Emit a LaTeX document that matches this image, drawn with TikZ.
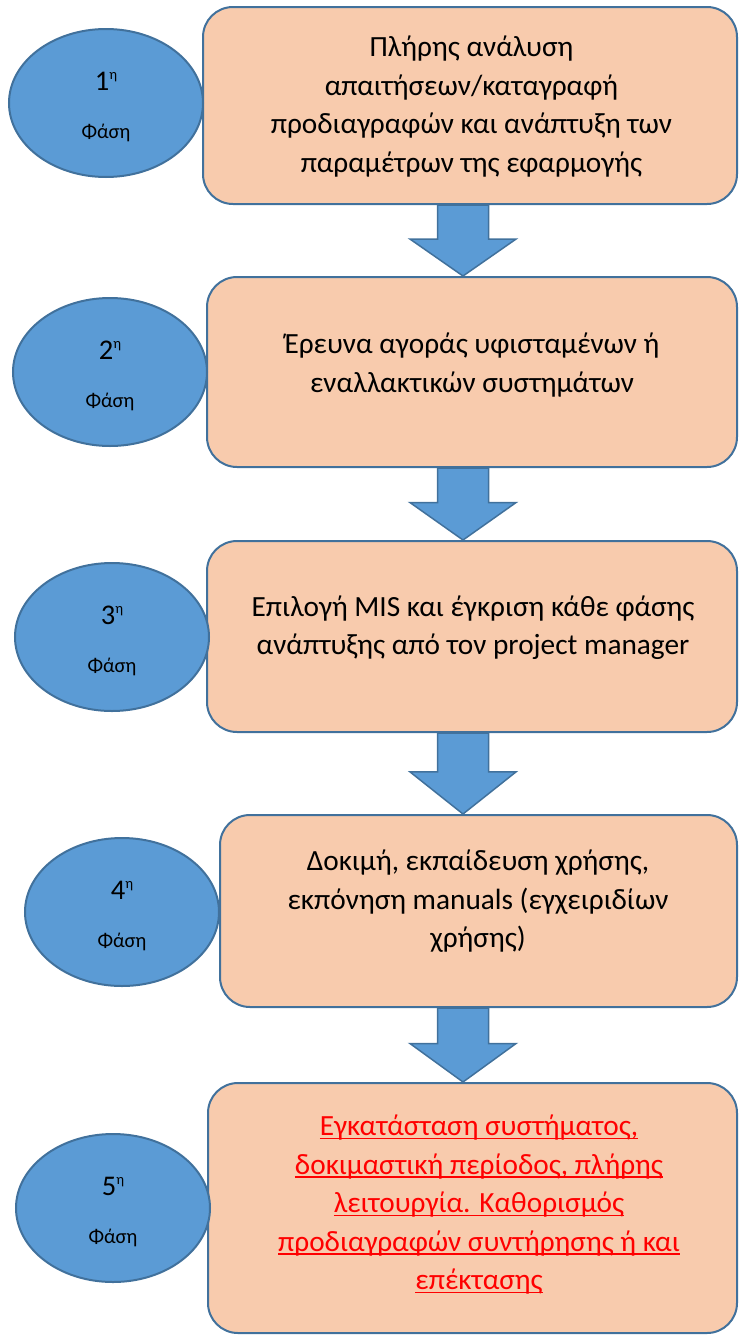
\documentclass[tikz,border=0pt]{standalone}
\usepackage{fontspec}
\setmainfont{Carlito}
\usetikzlibrary{calc,shapes.geometric}

\definecolor{peach}{HTML}{F8CBAD}
\definecolor{outline}{HTML}{41719C}
\definecolor{steel}{HTML}{5B9BD5}
\definecolor{alertred}{HTML}{FF0000}

% underlined line of text: the text, then a rule of the same width below it
\newsavebox{\ulinebox}
\newcommand{\ulined}[1]{\sbox{\ulinebox}{#1}\rlap{\usebox{\ulinebox}}\rule[-3.4pt]{\wd\ulinebox}{1.6pt}}

\tikzset{
  stagebox/.style={rectangle, draw=outline, fill=peach, line width=2pt,
    rounded corners=30pt, inner sep=0pt},
  phase/.style={ellipse, draw=outline, fill=steel, line width=2pt,
    minimum width=194pt, minimum height=148pt, inner sep=0pt},
  phasetext/.style={align=center, inner sep=0pt, font=\fontsize{20.5}{48}\selectfont},
  boxtext/.style={align=center, inner sep=0pt,
    font=\fontsize{29.3}{38.5}\selectfont},
  flowarrow/.style={draw=outline, fill=steel, line width=1.5pt, line join=miter},
}

% ordinal "n-th" phase label inside the ellipses
\newcommand{\phasetag}[1]{{\fontsize{28.5}{48}\selectfont #1\raisebox{11.5pt}{\fontsize{14.5}{14.5}\selectfont η}}\\Φάση}

% block arrow from the bottom of one stage to the top of the next
\newcommand{\flowstep}[2]{%
  \coordinate (s) at (#1.south -| ax);
  \coordinate (e) at (#2.north -| ax);
  \coordinate (m) at ($(s)!0.48!(e)$);
  \draw[flowarrow] ($(s)+(-25.5,0)$) -- ($(s)+(25.5,0)$) -- ($(m)+(25.5,0)$)
    -- ($(m)+(53,0)$) -- (e) -- ($(m)+(-53,0)$) -- ($(m)+(-25.5,0)$) -- cycle;
}

\begin{document}
\begin{tikzpicture}[x=1pt,y=-1pt]
\useasboundingbox (0,0) rectangle (739,1336);
\coordinate (ax) at (463,0);

% stages
\node[stagebox, minimum width=534pt, minimum height=197pt] (b1) at (470,105.5) {};
\node[stagebox, minimum width=530pt, minimum height=190pt] (b2) at (472,372) {};
\node[stagebox, minimum width=530pt, minimum height=191pt] (b3) at (472,636.5) {};
\node[stagebox, minimum width=517pt, minimum height=192pt] (b4) at (478.5,911) {};
\node[stagebox, minimum width=529pt, minimum height=250pt] (b5) at (472.5,1208) {};

% stage descriptions
\node[boxtext] (t1) at (471.5,106.5) {Πλήρης ανάλυση\\απαιτήσεων/καταγραφή\\προδιαγραφών και ανάπτυξη των\\παραμέτρων της εφαρμογής};
\node[boxtext] (t2) at (472,365) {Έρευνα αγοράς υφισταμένων ή\\εναλλακτικών συστημάτων};
\node[boxtext] (t3) at (473,627.5) {Επιλογή MIS και έγκριση κάθε φάσης\\ανάπτυξης από τον project manager};
\node[boxtext] (t4) at (478,901.5) {Δοκιμή, εκπαίδευση χρήσης,\\εκπόνηση manuals (εγχειριδίων\\χρήσης)};
\node[boxtext, text=alertred] (t5) at (479,1205) {\ulined{Εγκατάσταση συστήματος,}\\\ulined{δοκιμαστική περίοδος, πλήρης}\\\ulined{λειτουργία. Καθορισμός}\\\ulined{προδιαγραφών συντήρησης ή και}\\\ulined{επέκτασης}};

% phase markers
\node[phase] (p1) at (106,103) {};
\node[phase] (p2) at (110,372) {};
\node[phase] (p3) at (112,637) {};
\node[phase] (p4) at (122,912) {};
\node[phase] (p5) at (113,1208) {};
\node[phasetext] (l1) at ($(p1.center)+(0,4)$) {\phasetag{1}};
\node[phasetext] (l2) at ($(p2.center)+(0,4)$) {\phasetag{2}};
\node[phasetext] (l3) at ($(p3.center)+(0,4)$) {\phasetag{3}};
\node[phasetext] (l4) at ($(p4.center)+(0,4)$) {\phasetag{4}};
\node[phasetext] (l5) at ($(p5.center)+(0,4)$) {\phasetag{5}};

% flow between stages
\flowstep{b1}{b2}
\flowstep{b2}{b3}
\flowstep{b3}{b4}
\flowstep{b4}{b5}
\end{tikzpicture}
\end{document}
